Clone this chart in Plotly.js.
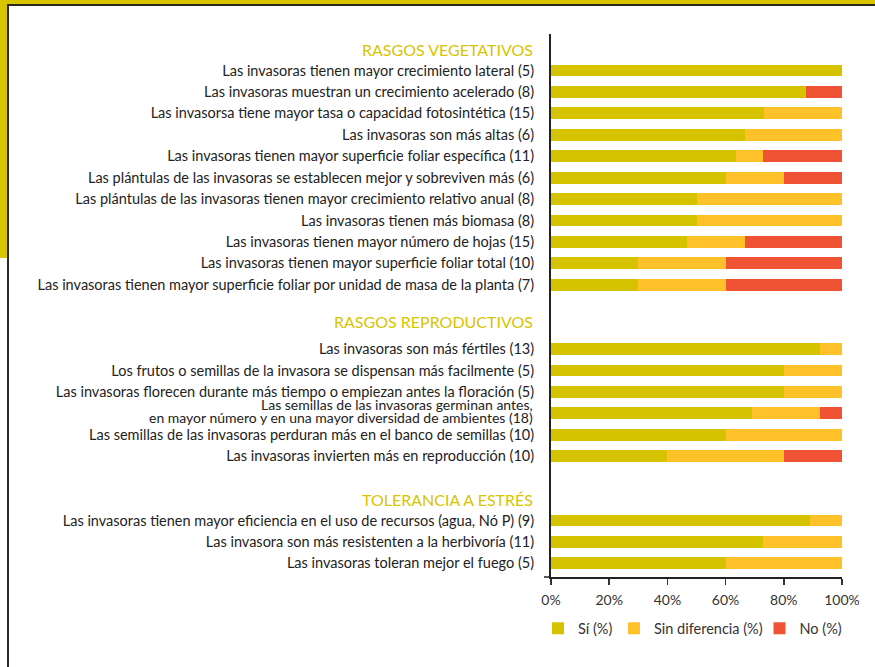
<!DOCTYPE html>
<html>
<head>
<meta charset="utf-8">
<script src="https://cdn.plot.ly/plotly-3.0.1.min.js"></script>
<style>
  html, body { margin: 0; padding: 0; background: #ffffff; }
  #wrap { position: relative; width: 875px; height: 667px; overflow: hidden; }
  #chart { position: absolute; left: 0; top: 0; width: 875px; height: 667px; }
  .frame { position: absolute; pointer-events: none; }
</style>
</head>
<body>
<div id="wrap">
  <div id="chart"></div>
  <div class="frame" style="left:0;top:0;width:875px;height:4px;background:#d8c400;"></div>
  <div class="frame" style="left:0;top:4px;width:875px;height:2px;background:#2a2a1a;"></div>
  <div class="frame" style="left:0;top:0;width:7px;height:258px;background:#d8c400;"></div>
  <div class="frame" style="left:7px;top:4px;width:1.5px;height:663px;background:#2a2a2a;"></div>
</div>
<script>
// ---- data ----
const sectionTitles = ["RASGOS VEGETATIVOS", "RASGOS REPRODUCTIVOS", "TOLERANCIA A ESTRÉS"];

const vegLabels = [
  "Las invasoras tienen mayor crecimiento lateral (5)",
  "Las invasoras muestran un crecimiento acelerado (8)",
  "Las invasorsa tiene mayor tasa o capacidad fotosintética (15)",
  "Las invasoras son más altas (6)",
  "Las invasoras tienen mayor superficie foliar específica (11)",
  "Las plántulas de las invasoras se establecen mejor y sobreviven más (6)",
  "Las plántulas de las invasoras tienen mayor crecimiento relativo anual (8)",
  "Las invasoras tienen más biomasa (8)",
  "Las invasoras tienen mayor número de hojas (15)",
  "Las invasoras tienen mayor superficie foliar total (10)",
  "Las invasoras tienen mayor superficie foliar por unidad de masa de la planta (7)"
];
const vegSi   = [100, 87.5, 73.3, 66.7, 63.6, 60, 50, 50, 46.7, 30, 30];
const vegSin  = [0,   0,    26.7, 33.3, 9.1,  20, 50, 50, 20,   30, 30];
const vegNo   = [0,   12.5, 0,    0,    27.3, 20, 0,  0,  33.3, 40, 40];

const repLabels = [
  "Las invasoras son más fértiles (13)",
  "Los frutos o semillas de la invasora se dispensan más facilmente (5)",
  "Las invasoras florecen durante más tiempo o empiezan antes la floración (5)",
  "Las semillas de las invasoras germinan antes,<br>en mayor número y en una mayor diversidad de ambientes (18)",
  "Las semillas de las invasoras perduran más en el banco de semillas (10)",
  "Las invasoras invierten más en reproducción (10)"
];
const repSi  = [92.3, 80, 80, 69, 60, 40];
const repSin = [7.7,  20, 20, 23.5, 40, 40];
const repNo  = [0,    0,  0,  7.5, 0,  20];

const tolLabels = [
  "Las invasoras tienen mayor eficiencia en el uso de recursos (agua, Nó P) (9)",
  "Las invasora son más resistenten a la herbivoría (11)",
  "Las invasoras toleran mejor el fuego (5)"
];
const tolSi  = [88.9, 72.7, 60];
const tolSin = [11.1, 27.3, 40];
const tolNo  = [0,    0,    0];

const seriesNames = ["Sí (%)", "Sin diferencia (%)", "No (%)"];
const tickVals = [0, 20, 40, 60, 80, 100];
const tickText = ["0%", "20%", "40%", "60%", "80%", "100%"];

// ---- build ----
const COLORS = ["#d6c300", "#fec12a", "#f05234"];
const FONT = "Lato, 'Open Sans', sans-serif";
const LABEL_SIZE = 14.5;

const categories = [].concat(
  [sectionTitles[0]], vegLabels, ["__gap1"],
  [sectionTitles[1]], repLabels, ["__gap2"],
  [sectionTitles[2]], tolLabels
);
const allLabels = vegLabels.concat(repLabels, tolLabels);
const siAll  = vegSi.concat(repSi, tolSi);
const sinAll = vegSin.concat(repSin, tolSin);
const noAll  = vegNo.concat(repNo, tolNo);
const valuesBySeries = [siAll, sinAll, noAll];
const legendIds = ["legend", "legend2", "legend3"];

const traces = seriesNames.map((name, i) => ({
  type: "bar",
  orientation: "h",
  name: name,
  x: valuesBySeries[i],
  y: allLabels,
  width: 0.55,
  marker: { color: COLORS[i], line: { width: 0 } },
  legend: legendIds[i],
  hoverinfo: "x+y"
}));

const plotW = 875 - 551 - 33;
const plotH = 667 - 34 - 90.3;
const labelRightX = -16 / plotW;

const headerShifts = [0, 6, 0];
const annotations = sectionTitles.map((t, i) => ({
  text: t,
  xref: "paper", yref: "y",
  x: labelRightX, y: categories.indexOf(t),
  xanchor: "right", yanchor: "middle",
  yshift: headerShifts[i],
  showarrow: false,
  font: { family: FONT, size: 16, color: "#d8c400" }
}));

// multi-line labels: draw each line as its own tightly spaced text
const tickTexts = allLabels.map(l => l.indexOf("<br>") >= 0 ? "" : l);
allLabels.forEach(l => {
  if (l.indexOf("<br>") < 0) return;
  const lines = l.split("<br>");
  const shifts = [9, -4.5];
  lines.forEach((ln, k) => annotations.push({
    text: ln, xref: "paper", yref: "y",
    x: labelRightX, y: categories.indexOf(l),
    xanchor: "right", yanchor: "middle", yshift: shifts[k],
    showarrow: false,
    font: { family: FONT, size: 14, color: "#222222" }
  }));
});

const legendFont = { family: FONT, size: 14.5, color: "#333333" };
function legendAt(px) {
  return {
    x: (px - 551) / plotW, xanchor: "left",
    y: -(612 - 576.7) / plotH, yanchor: "top",
    orientation: "h", font: legendFont, bgcolor: "rgba(0,0,0,0)",
    borderwidth: 0
  };
}

const layout = {
  width: 875, height: 667,
  margin: { l: 551, r: 33, t: 34, b: 90.3, pad: 0 },
  paper_bgcolor: "rgba(0,0,0,0)",
  plot_bgcolor: "rgba(0,0,0,0)",
  barmode: "stack",
  showlegend: true,
  legend: legendAt(538),
  legend2: legendAt(614),
  legend3: legendAt(759.5),
  xaxis: {
    range: [0, 100],
    tickmode: "array", tickvals: tickVals, ticktext: tickText,
    ticks: "outside", ticklen: 6, tickwidth: 1.5, tickcolor: "#333333",
    showgrid: false, zeroline: false,
    showline: true, linecolor: "#222222", linewidth: 1.5,
    ticklabelstandoff: 4,
    tickfont: { family: FONT, size: 14, color: "#333333" },
    fixedrange: true
  },
  yaxis: {
    type: "category",
    categoryorder: "array", categoryarray: categories,
    range: [24.64, -0.705],
    tickmode: "array", tickvals: allLabels, ticktext: tickTexts,
    ticks: "", showgrid: false, zeroline: false,
    showline: true, linecolor: "#222222", linewidth: 2,
    ticklabelstandoff: 12,
    tickfont: { family: FONT, size: LABEL_SIZE, color: "#222222" },
    fixedrange: true
  },
  shapes: [{
    type: "line", xref: "paper", yref: "paper",
    x0: -7 / plotW, x1: 0, y0: 0, y1: 0,
    line: { color: "#222222", width: 1.5 }
  }],
  annotations: annotations
};

Plotly.newPlot("chart", traces, layout, { displayModeBar: false, staticPlot: true });
</script>
</body>
</html>
